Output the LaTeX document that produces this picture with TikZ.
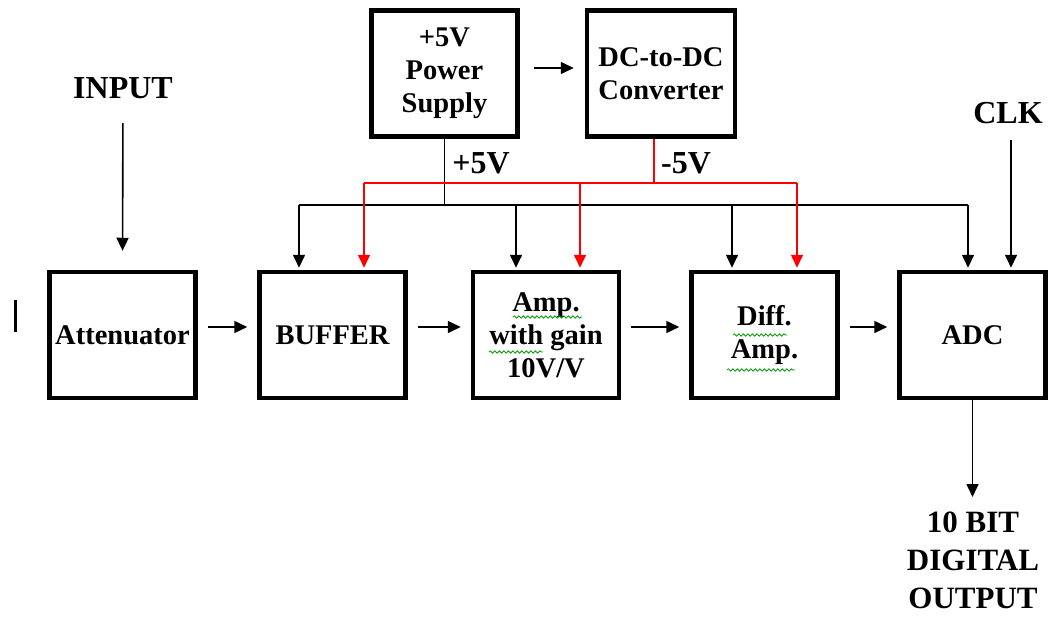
\documentclass[tikz,border=0pt]{standalone}
\usepackage{fontspec}
\setmainfont{Liberation Serif}
\usetikzlibrary{arrows.meta,decorations.pathmorphing}

\begin{document}
\begin{tikzpicture}[x=1pt,y=-1pt,line width=1.6pt,
  font=\bfseries\fontsize{28.5}{33}\selectfont,
  >={Triangle[length=13pt,width=12pt]},
  blk/.style={draw,line width=4.5pt,minimum width=146pt,minimum height=126pt,
    align=center,inner sep=0pt},
  lbl/.style={font=\bfseries\fontsize{32}{38}\selectfont,align=center},
  squig/.style={draw=green!60!black,line width=0.8pt,decorate,
    decoration={snake,amplitude=1.2pt,segment length=4.5pt}}]
\useasboundingbox (0,0) rectangle (1051,616);
\def\YB{335}
% bloques
\node[blk] (att) at (122.5,\YB) {Attenuator};
\node[blk] (buf) at (332.5,\YB) {BUFFER};
\node[blk] (amp) at (546,\YB) {Amp.\\with gain\\10V/V};
\node[blk] (dif) at (764.5,\YB) {Diff.\\Amp.};
\node[blk] (adc) at (972.5,\YB) {ADC};
\node[blk] (ps) at (444.5,73.5) {+5V\\Power\\Supply};
\node[blk,minimum width=148pt] (dc) at (661,73.5) {DC-to-DC\\Converter};
% etiquetas
\node[lbl] (in) at (123,88) {INPUT};
\node[lbl] (clk) at (1008,113) {CLK};
\node[lbl,font=\bfseries\fontsize{31}{38}\selectfont] (out) at (973,560) {10 BIT\\DIGITAL\\OUTPUT};
\node[lbl] (pv) at (481,163) {+5V};
\node[lbl] (nv) at (686,163) {-5V};
% cadena de senal
\draw[->,shorten <=35pt,shorten >=19pt] (in.center) -- (att.north);
\foreach \a/\b in {att/buf,buf/amp,amp/dif,dif/adc}
  { \draw[->,shorten <=10pt,shorten >=10pt] ([yshift=8pt]\a.east) -- ([yshift=8pt]\b.west); }
\draw[->,shorten <=14pt,shorten >=11pt] ([yshift=5.5pt]ps.east) -- ([yshift=5.5pt]dc.west);
\draw[->,shorten >=63pt] (adc.south) -- (adc.south |- out.center);
\draw[->,shorten <=27pt,shorten >=2pt] ([xshift=38.5pt]adc.north |- clk.center) -- ([xshift=38.5pt]adc.north);
% alimentacion +5V
\coordinate (bk) at (ps.south |- 0,205);
\draw (ps.south) -- (bk);
\draw ([xshift=-33.5pt]buf.north |- bk) -- ([xshift=-4.5pt]adc.north |- bk);
\foreach \n/\dx in {buf/-33.5,amp/-30,dif/-32.5,adc/-4.5}
  { \draw[->,shorten >=2pt] ([xshift=\dx pt]\n.north |- bk) -- ([xshift=\dx pt]\n.north); }
% alimentacion -5V
\coordinate (rd) at ([xshift=-7pt]dc.south |- 0,183);
\draw[red] ([xshift=-7pt]dc.south) -- (rd);
\draw[red] ([xshift=31.5pt]buf.north |- rd) -- ([xshift=32.5pt]dif.north |- rd);
\foreach \n/\dx in {buf/31.5,amp/34,dif/32.5}
  { \draw[red,->,shorten >=2pt] ([xshift=\dx pt]\n.north |- rd) -- ([xshift=\dx pt]\n.north); }
% marcas
\draw[line width=3pt] (15,300) -- (15,332);
\path[squig] (513,317) -- (582,317);
\path[squig] (489,352) -- (543,352);
\path[squig] (733,335) -- (787,335);
\path[squig] (727,370) -- (795,370);
\end{tikzpicture}
\end{document}
